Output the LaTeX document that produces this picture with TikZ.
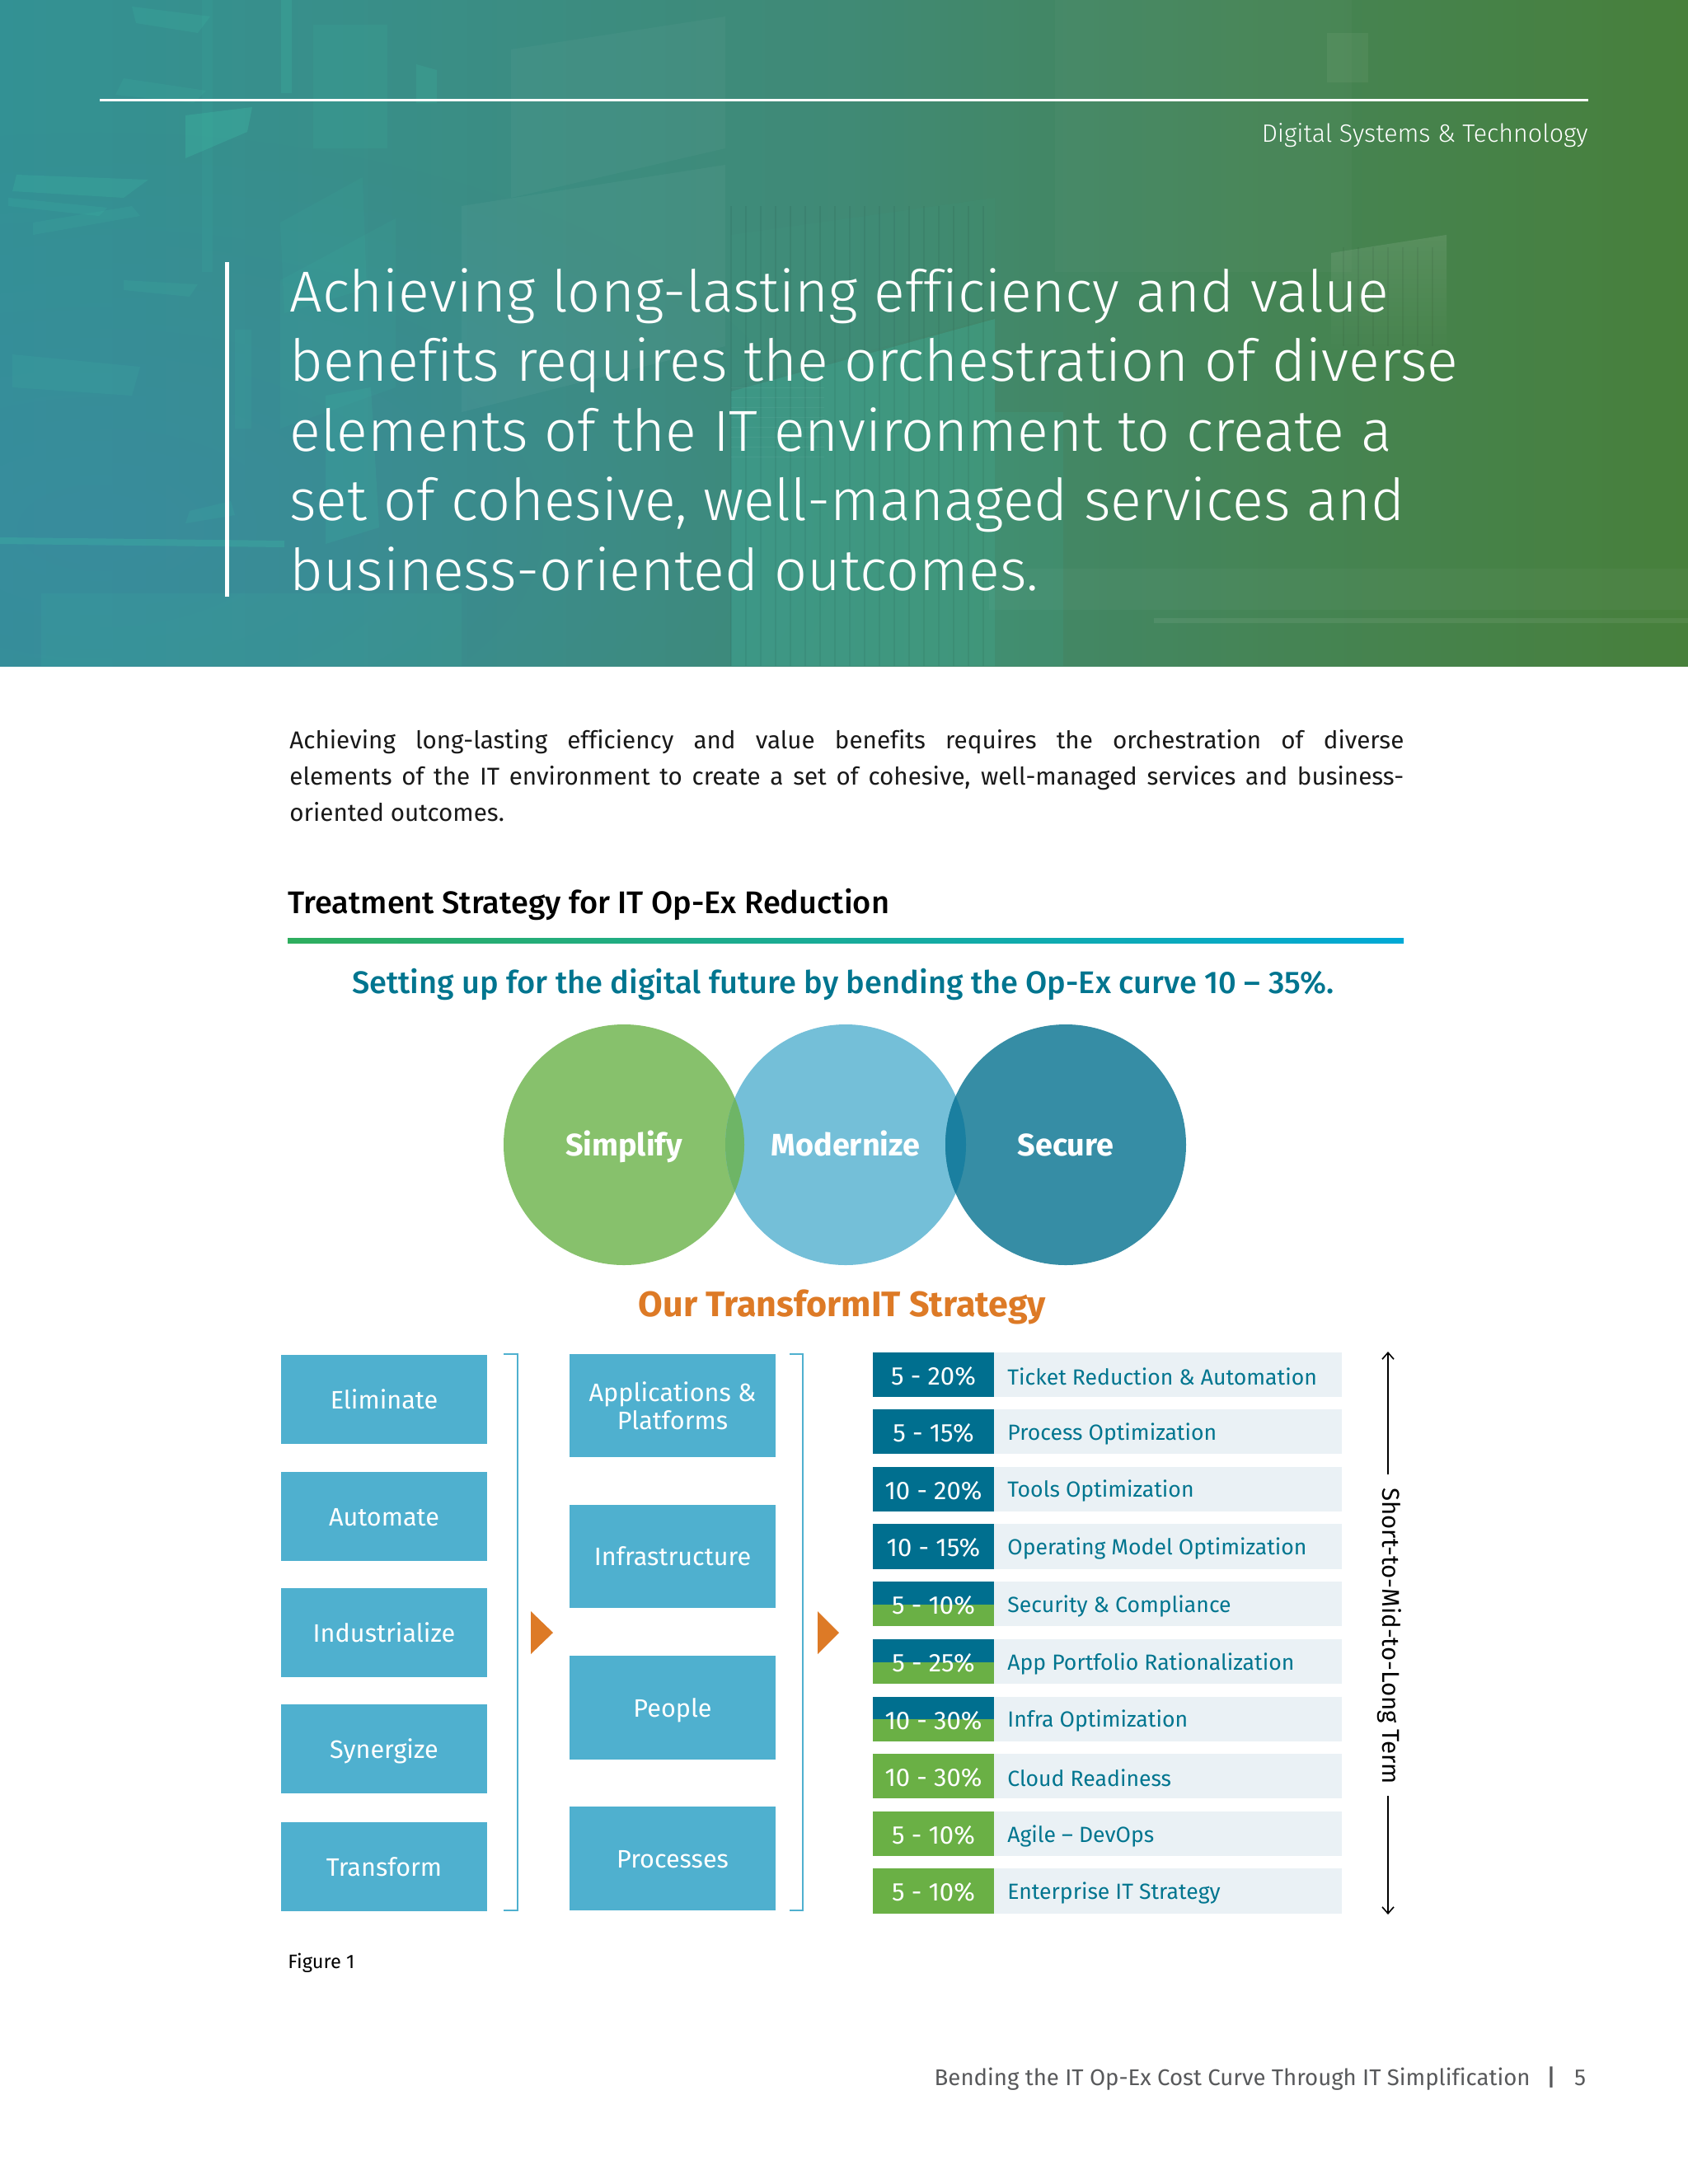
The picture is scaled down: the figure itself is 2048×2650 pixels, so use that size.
\documentclass[tikz,border=0pt]{standalone}
\usepackage{fontspec}
\usetikzlibrary{arrows.meta,shadings,fadings}
\setmainfont[Ligatures=NoCommon]{Fira Sans}
\newfontfamily\lightf[Ligatures=NoCommon]{Fira Sans Light}
\newfontfamily\medf[Ligatures=NoCommon]{Fira Sans Medium}
\definecolor{boxblue}{HTML}{4FB0CF}
\definecolor{darkteal}{HTML}{006F8F}
\definecolor{midgreen}{HTML}{6AB045}
\definecolor{palebar}{HTML}{EAF1F5}
\definecolor{tealtext}{HTML}{00758F}
\definecolor{orangeacc}{HTML}{DD7A26}
\definecolor{footgray}{HTML}{58595B}
\definecolor{glow}{HTML}{3FC0A8}
\definecolor{bluetint}{HTML}{3D88A8}
\definecolor{simpc}{HTML}{87C16C}
\definecolor{modc}{HTML}{74BFD8}
\definecolor{secc}{HTML}{368DA5}
\definecolor{simod}{HTML}{6EB566}
\definecolor{modsec}{HTML}{1A7FA0}
\definecolor{rulegreen}{HTML}{2EAE5E}
\definecolor{ruleblue}{HTML}{00A9D6}
\pgfdeclarehorizontalshading{bannerbase}{100bp}{
 rgb(0bp)=(0.20,0.57,0.58);
 rgb(25bp)=(0.20,0.57,0.58);
 rgb(35bp)=(0.22,0.56,0.54);
 rgb(50bp)=(0.25,0.54,0.46);
 rgb(62bp)=(0.27,0.52,0.34);
 rgb(75bp)=(0.28,0.50,0.23);
 rgb(100bp)=(0.29,0.49,0.16)}
\tikzfading[name=softblob,inner color=transparent!50,outer color=transparent!100]
\tikzfading[name=downfade,top color=transparent!0,bottom color=transparent!100]
\tikzset{
 x=0.5pt,y=-0.5pt,
 sq/.style={rectangle,inner sep=0pt,minimum width=125pt,text=white,align=center,font=\fontsize{15.3}{17}\selectfont},
 leftbox/.style={sq,fill=boxblue,minimum height=54pt,text height=14pt,text depth=2.5pt},
 midbox/.style={sq,fill=boxblue,minimum height=62.8pt},
 midsingle/.style={midbox,text height=13.5pt,text depth=2.5pt},
 pctbox/.style={rectangle,inner sep=0pt,minimum width=73.5pt,minimum height=27.1pt,text=white,font=\fontsize{15.5}{17}\selectfont},
 rowlabel/.style={inner sep=0pt,anchor=west,text=tealtext,font=\fontsize{13.3}{16}\selectfont},
 bracketline/.style={draw=boxblue,line width=1pt},
 tri/.style={fill=orangeacc},
 tex/.style={fill=white,opacity=#1},
 gl/.style={fill=glow,opacity=#1},
 txt/.style={inner sep=0pt},
 termarrow/.style={draw=black,line width=0.8pt,-{Straight Barb[length=4pt,width=7pt,line width=0.8pt]}},
}
\begin{document}
\begin{tikzpicture}
\useasboundingbox (0,0) rectangle (2048,2650);
% banner
\fill[shading=bannerbase,shading angle=0] (0,0) rectangle (2048,808);
\begin{scope}
\clip (0,0) rectangle (2048,808);
\fill[bluetint,path fading=softblob] (120,640) ellipse[x radius=900,y radius=480];
% left structure
\fill[gl=.18] (160,8) -- (255,20) -- (240,40) -- (165,28) -- cycle;
\fill[gl=.14] (150,95) -- (250,110) -- (235,125) -- (140,115) -- cycle;
\fill[gl=.30] (225,140) -- (306,130) -- (300,160) -- (225,192) -- cycle;
\fill[gl=.22] (20,212) -- (180,218) -- (150,240) -- (15,232) -- cycle;
\fill[gl=.16] (10,240) -- (130,252) -- (120,262) -- (10,250) -- cycle;
\fill[gl=.14] (40,270) -- (160,250) -- (170,262) -- (40,285) -- cycle;
\fill[gl=.14] (150,340) -- (240,345) -- (230,360) -- (150,352) -- cycle;
\fill[gl=.13] (15,430) -- (170,445) -- (160,480) -- (15,470) -- cycle;
\fill[gl=.22] (341,0) rectangle (354,113);
\fill[gl=.18] (505,78) -- (530,85) -- (530,125) -- (505,125) -- cycle;
\fill[gl=.10] (245,0) rectangle (258,330);
\fill[gl=.12] (380,30) rectangle (470,180);
\fill[gl=.09] (340,270) -- (440,215) -- (445,350) -- (345,380) -- cycle;
\fill[gl=.09] (340,340) -- (480,265) -- (480,470) -- (340,520) -- cycle;
\fill[gl=.10] (285,400) rectangle (305,520);
\fill[gl=.16] (395,480) -- (450,470) -- (460,640) -- (395,660) -- cycle;
\fill[gl=.14] (230,620) -- (280,608) -- (285,625) -- (225,635) -- cycle;
\fill[gl=.28] (0,652) -- (345,656) -- (345,664) -- (0,660) -- cycle;
\fill[gl=.10] (50,720) rectangle (560,808);
\fill[tex=.04] (560,250) -- (880,200) -- (880,420) -- (560,500) -- cycle;
\fill[tex=.03] (620,60) -- (880,20) -- (880,180) -- (620,240) -- cycle;
% grid panels
\fill[gl=.04] (887,285) -- (1207,240) -- (1207,385) -- (887,470) -- cycle;
\fill[gl=.26] (887,475) -- (1207,387) -- (1207,808) -- (887,808) -- cycle;
\fill[gl=.12] (1207,500) rectangle (1290,808);
\foreach \vx in {887,905,...,1207} \draw[black,opacity=.05,line width=.7pt] (\vx,250) -- (\vx,808);
\foreach \hy in {470,482,...,560} \draw[white,opacity=.05,line width=.5pt] (887,\hy) -- (1000,\hy);
\fill[white,opacity=.10,path fading=downfade] (1615,307) -- (1755,285) -- (1755,430) -- (1615,430) -- cycle;
\foreach \vx in {1630,1648,...,1750} \draw[black,opacity=.05,line width=.7pt] (\vx,300) -- (\vx,420);
\fill[white,opacity=.05] (1610,40) rectangle (1660,100);
\fill[white,opacity=.025] (1280,0) rectangle (1640,330);
\fill[white,opacity=.07] (1400,750) rectangle (2048,756);
\fill[white,opacity=.03] (1200,690) rectangle (2048,740);
\end{scope}
\draw[white,line width=1.5pt] (121,121) coordinate (ruleL) -- (1927,121) coordinate (ruleR);
\node[txt,anchor=base east,text=white,font=\lightf\fontsize{15.2}{18}\selectfont] (dept) at (1927,172) {Digital Systems \& Technology};
\draw[white,line width=2.5pt] (275.5,318) coordinate (barT) -- (275.5,724) coordinate (barB);
\node[txt,anchor=north west,text=white,align=left,font=\lightf\fontsize{35.1}{42.25}\selectfont] (quote) at (351,325) {Achieving long-lasting efficiency and value\\benefits requires the orchestration of diverse\\elements of the IT environment to create a\\set of cohesive, well-managed services and\\business-oriented outcomes.};
% body
\node[txt,anchor=north west,text width=676pt,align=justify,text=black!90,font=\fontsize{14.8}{22}\selectfont] (body) at (351,885) {Achieving long-lasting efficiency and value benefits requires the orchestration of diverse\linebreak elements of the IT environment to create a set of cohesive, well-managed services and business-\linebreak oriented outcomes.};
\node[txt,anchor=base west,font=\medf\fontsize{19}{22}\selectfont] (head) at (349,1108) {Treatment Strategy for IT Op-Ex Reduction};
\fill[left color=rulegreen,right color=ruleblue] (349,1138) rectangle (1703,1144);
\node[txt,anchor=base,text=tealtext,font=\medf\fontsize{19}{22}\selectfont] (sub) at (1023,1205) {Setting up for the digital future by bending the Op-Ex curve 10 – 35\%.};
% circles
\fill[simpc] (757,1389) circle[radius=146];
\fill[modc] (1026,1389) circle[radius=146];
\fill[secc] (1293,1389) circle[radius=146];
\begin{scope}
\clip (757,1389) circle[radius=146];
\fill[simod] (1026,1389) circle[radius=146];
\end{scope}
\begin{scope}
\clip (1026,1389) circle[radius=146];
\fill[modsec] (1293,1389) circle[radius=146];
\end{scope}
\foreach \n/\cx/\t in {csim/757/Simplify,cmod/1026/Modernize,csec/1293/Secure}
 \node[txt,anchor=base,text=white,font=\bfseries\fontsize{18.9}{22}\selectfont] (\n) at (\cx,1402) {\t};
\node[txt,anchor=base,text=orangeacc,font=\bfseries\fontsize{21.5}{24}\selectfont] (strategy) at (1022,1597) {Our TransformIT Strategy};
% left boxes
\node[leftbox] (l1) at (466,1698) {Eliminate};
\node[leftbox] (l2) at (466,1839.5) {Automate};
\node[leftbox] (l3) at (466,1981) {Industrialize};
\node[leftbox] (l4) at (466,2122) {Synergize};
\node[leftbox] (l5) at (466,2264.5) {Transform};
% middle boxes
\node[midbox] (m1) at (816,1705.5) {Applications \&\\Platforms};
\node[midsingle] (m2) at (816,1888.5) {Infrastructure};
\node[midsingle] (m3) at (816,2072) {People};
\node[midsingle] (m4) at (816,2255) {Processes};
% brackets
\draw[bracketline] (611,1642.7) -| (628,2318) -- (611,2318);
\draw[bracketline] (958,1642.7) -| (974,2318) -- (958,2318);
\fill[tri] (644,1955) -- (671,1981) -- (644,2007) -- cycle;
\fill[tri] (992,1955) -- (1018,1981) -- (992,2007) -- cycle;
% rows
\newcommand{\rowitem}[5]{%
 \fill[palebar] (1206,#2) rectangle (1628,#2+54.3);
 \ifnum#5=0 \fill[darkteal] (1059,#2) rectangle (1206,#2+54.3);\fi
 \ifnum#5=1 \fill[midgreen] (1059,#2) rectangle (1206,#2+54.3);\fi
 \ifnum#5=2 \fill[darkteal] (1059,#2) rectangle (1206,#2+27.6);\fill[midgreen] (1059,#2+27.6) rectangle (1206,#2+54.3);\fi
 \node[pctbox] (p#1) at (1132.5,#2+29) {#3};
 \node[rowlabel] (t#1) at (1222,#2+29.5) {#4};
}
\rowitem{1}{1640.7}{5 - 20\%}{Ticket Reduction \& Automation}{0}
\rowitem{2}{1710}{5 - 15\%}{Process Optimization}{0}
\rowitem{3}{1779.8}{10 - 20\%}{Tools Optimization}{0}
\rowitem{4}{1849.3}{10 - 15\%}{Operating Model Optimization}{0}
\rowitem{5}{1919}{5 - 10\%}{Security \& Compliance}{2}
\rowitem{6}{1989}{5 - 25\%}{App Portfolio Rationalization}{2}
\rowitem{7}{2058.5}{10 - 30\%}{Infra Optimization}{2}
\rowitem{8}{2128}{10 - 30\%}{Cloud Readiness}{1}
\rowitem{9}{2198}{5 - 10\%}{Agile – DevOps}{1}
\rowitem{10}{2267.4}{5 - 10\%}{Enterprise IT Strategy}{1}
% term arrow
\node[txt,rotate=-90,font=\fontsize{14.7}{18}\selectfont] (term) at (1686,1985) {Short-to-Mid-to-Long Term};
\coordinate (termTop) at (1684,1640);
\coordinate (termBot) at (1684,2323);
\coordinate (termA) at (1684,1789);
\coordinate (termB) at (1684,2179);
\draw[termarrow] (termA) -- (termTop);
\draw[termarrow] (termB) -- (termBot);
\node[txt,anchor=base west,font=\fontsize{11.8}{14}\selectfont] (fig) at (349,2388) {Figure 1};
\node[txt,anchor=base east,text=footgray,font=\fontsize{13.8}{16}\selectfont] (foot) at (1857,2530) {Bending the IT Op-Ex Cost Curve Through IT Simplification};
\node[txt,anchor=base,text=footgray,font=\medf\fontsize{14}{16}\selectfont] (sep) at (1882,2530) {|};
\node[txt,anchor=base,text=footgray,font=\fontsize{14}{16}\selectfont] (pg) at (1917,2530) {5};
\end{tikzpicture}
\end{document}
